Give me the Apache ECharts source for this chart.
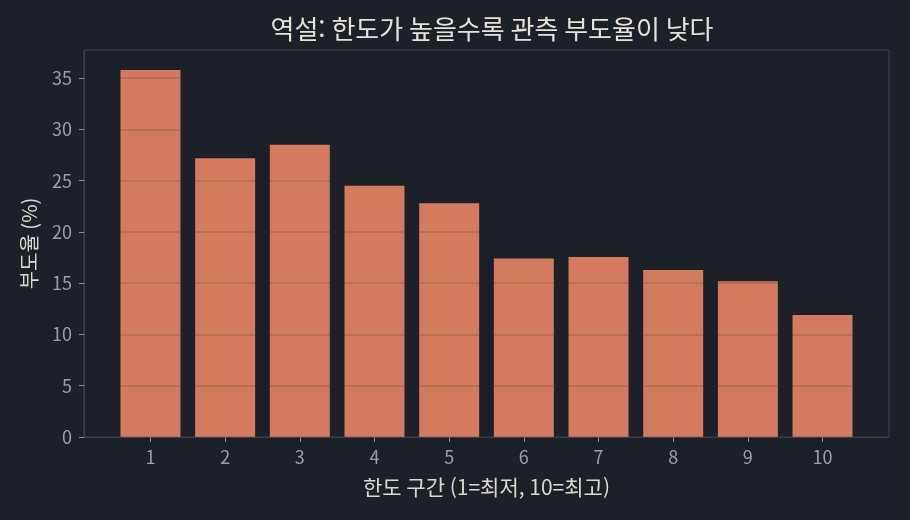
<!DOCTYPE html>
<html lang="ko">
<head>
  <meta charset="UTF-8">
  <title>역설: 한도가 높을수록 관측 부도율이 낮다</title>
  <script src="https://cdn.jsdelivr.net/npm/echarts@6.0.0/dist/echarts.min.js"></script>
  <style>
    html, body { margin: 0; padding: 0; background: #1c2028; }
    #chart { width: 910px; height: 520px; }
  </style>
</head>
<body>
  <div id="chart"></div>
  <script>
    // 한도 구간 (1=최저, 10=최고)
    const bins = [1, 2, 3, 4, 5, 6, 7, 8, 9, 10];
    // 구간별 관측 부도율 (%)
    const defaultRates = [35.8, 27.2, 28.5, 24.5, 22.8, 17.4, 17.55, 16.3, 15.2, 11.9];
    const yTicks = [0, 5, 10, 15, 20, 25, 30, 35];

    const font = '"Noto Sans CJK KR", "Noto Sans", sans-serif';
    const chart = echarts.init(document.getElementById('chart'));

    chart.setOption({
      backgroundColor: '#1c2028',
      title: {
        text: '역설: 한도가 높을수록 관측 부도율이 낮다',
        left: 487,
        textAlign: 'center',
        top: 11,
        textStyle: { color: '#e6e2da', fontSize: 26, fontWeight: 'normal', fontFamily: font }
      },
      grid: {
        left: 84, right: 21, top: 50, bottom: 83,
        show: true,
        backgroundColor: '#1c2028',
        borderColor: '#3c424c',
        borderWidth: 1
      },
      xAxis: {
        type: 'value',
        min: 0.11,
        max: 10.89,
        name: '한도 구간 (1=최저, 10=최고)',
        nameLocation: 'middle',
        nameGap: 40,
        nameTextStyle: { color: '#dcd8d0', fontSize: 21, fontFamily: font },
        axisLine: { show: true, lineStyle: { color: '#3c424c' } },
        axisTick: {
          show: true, length: 5, customValues: bins,
          lineStyle: { color: '#8a909a' }
        },
        axisLabel: {
          customValues: bins, margin: 11,
          color: '#9aa0aa', fontSize: 18, fontFamily: font
        },
        splitLine: { show: false }
      },
      yAxis: {
        type: 'value',
        min: 0,
        max: 37.75,
        interval: 5,
        z: 5,
        name: '부도율 (%)',
        nameLocation: 'middle',
        nameGap: 45,
        nameRotate: 90,
        nameTextStyle: { color: '#dcd8d0', fontSize: 20, fontFamily: font },
        axisLine: { show: true, lineStyle: { color: '#3c424c' } },
        axisTick: {
          show: true, length: 5, customValues: yTicks,
          lineStyle: { color: '#8a909a' }
        },
        axisLabel: {
          customValues: yTicks,
          color: '#9aa0aa', fontSize: 18, fontFamily: font, margin: 12
        },
        // drawn above the bars, as in the reference
        splitLine: { show: true, lineStyle: { color: 'rgba(45,48,56,0.2)', width: 1.5 } }
      },
      series: [{
        type: 'bar',
        data: bins.map((b, i) => [b, defaultRates[i]]),
        barWidth: 60,
        itemStyle: { color: '#d47a5f' },
        silent: true
      }]
    });
  </script>
</body>
</html>
